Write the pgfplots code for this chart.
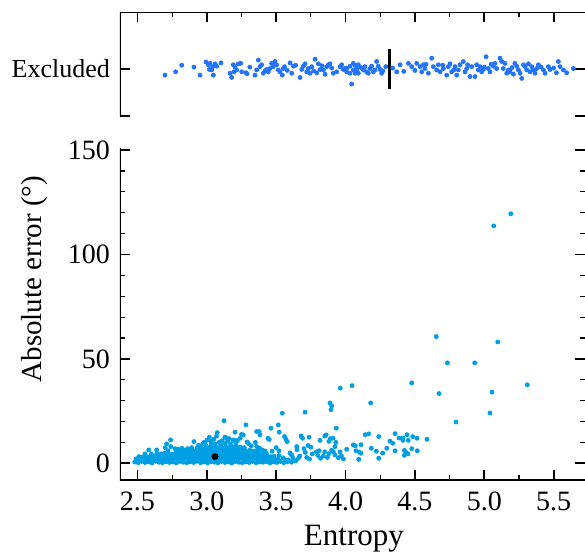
\documentclass[border=0pt]{standalone}
\usepackage{fontspec}
\setmainfont{Liberation Serif}
\usepackage{pgfplots}
\pgfplotsset{compat=1.18}
\definecolor{errblue}{RGB}{0,158,226}
\definecolor{exblue}{RGB}{36,116,250}

\pgfplotsset{
  panel/.style={
    scale only axis, width=232.5pt,
    xmin=2.374, xmax=5.726,
    axis line style={draw=none},
    tick align=inside,
    major tick length=5pt, minor tick length=2.5pt,
    every tick/.style={black, line width=0.9pt},
    every minor tick/.style={line width=0.6pt},
    xtick={2.5,3.0,3.5,4.0,4.5,5.0,5.5},
    minor x tick num=1,
    tick label style={font=\fontsize{14}{16}\selectfont},
    yticklabel style={anchor=east, xshift=-1.5pt},
  },
}

\begin{document}
\begin{tikzpicture}

% main panel
\begin{axis}[panel,
  at={(0,0)}, anchor=south west, height=166pt,
  ymin=-8, ymax=151,
  ytick={0,50,100,150}, yticklabels={0,50,100,150}, minor y tick num=4,
  xticklabels={2.5,3.0,3.5,4.0,4.5,5.0,5.5},
  xtick pos=bottom, ytick pos=both,
  xticklabel style={anchor=base, yshift=-15pt},
  xlabel={Entropy}, ylabel={Absolute error (°)},
  every axis x label/.style={at={(axis description cs:0.503,-0.196)}, anchor=base, font=\fontsize{15.5}{18}\selectfont},
  every axis y label/.style={at={(axis description cs:-0.168,0.605)}, rotate=90, anchor=base, font=\fontsize{14.5}{17}\selectfont},
]
\coordinate (bl) at (rel axis cs:0,0);
\draw[line width=1.2pt] (rel axis cs:0,1) -- (rel axis cs:0,0) -- (rel axis cs:1,0);

\addplot[only marks, mark=*, mark size=1pt, color=errblue] coordinates {
% dense band
(2.48,0.6) (2.505,0.3) (2.53,0.9) (2.555,0.4) (2.58,0.7) (2.605,0.2) (2.63,1.0) (2.655,0.5) (2.68,0.3) (2.705,0.8)
(2.73,0.4) (2.755,0.6) (2.78,0.2) (2.805,0.9) (2.83,0.5) (2.855,0.3) (2.88,0.7) (2.905,0.4) (2.93,1.0) (2.955,0.3)
(2.98,0.6) (3.005,0.2) (3.03,0.8) (3.055,0.5) (3.08,0.3) (3.105,0.9) (3.13,0.4) (3.155,0.6) (3.18,0.2) (3.205,0.8)
(3.23,0.5) (3.255,0.3) (3.28,0.7) (3.305,0.4) (3.33,0.9) (3.355,0.3) (3.38,0.6) (3.405,0.5) (3.43,0.8) (3.455,0.2)
(3.48,0.6) (3.505,0.4) (3.53,0.9) (3.555,0.3) (3.58,0.7) (3.61,0.5) (3.64,1.2)
(2.49,2.1) (2.515,1.8) (2.54,2.3) (2.565,1.9) (2.59,2.2) (2.615,1.7) (2.64,2.4) (2.665,2.0) (2.69,1.8) (2.715,2.2)
(2.74,1.9) (2.765,2.3) (2.79,1.7) (2.815,2.1) (2.84,2.4) (2.865,1.9) (2.89,2.2) (2.915,1.8) (2.94,2.3) (2.965,2.0)
(2.99,1.7) (3.015,2.2) (3.04,2.4) (3.065,1.9) (3.09,2.1) (3.115,1.8) (3.14,2.3) (3.165,2.0) (3.19,1.7) (3.215,2.2)
(3.24,2.4) (3.265,1.9) (3.29,2.1) (3.315,1.8) (3.34,2.3) (3.365,2.0) (3.39,1.7) (3.415,2.2) (3.44,1.9) (3.465,2.3)
(3.49,1.8) (3.515,2.1) (3.55,2.6) (3.57,1.6)
(2.51,3.2) (2.535,3.0) (2.56,3.5) (2.585,3.1) (2.61,3.4) (2.635,3.6) (2.66,3.2) (2.685,3.0) (2.71,3.5) (2.735,3.3)
(2.76,3.1) (2.785,3.6) (2.81,3.2) (2.835,3.4) (2.86,3.0) (2.885,3.5) (2.91,3.3) (2.935,3.1) (2.96,3.6) (2.985,3.2)
(3.01,3.4) (3.035,3.0) (3.085,3.5) (3.11,3.3) (3.135,3.1) (3.16,3.6) (3.185,3.2) (3.21,3.4) (3.235,3.0) (3.26,3.5)
(3.285,3.3) (3.31,3.1) (3.335,3.6) (3.36,3.2) (3.385,3.4) (3.41,3.0) (3.435,3.5) (3.46,3.2) (3.485,3.4) (3.52,3.7)
(2.60,4.4) (2.64,4.8) (2.67,4.5) (2.70,4.9) (2.725,4.6) (2.75,4.4) (2.775,4.8) (2.80,4.7) (2.825,4.5) (2.85,4.9)
(2.875,4.6) (2.90,4.8) (2.925,4.4) (2.95,4.7) (2.975,4.9) (3.00,4.5) (3.025,4.8) (3.05,4.6) (3.075,4.4) (3.10,4.9)
(3.125,4.7) (3.15,4.5) (3.175,4.8) (3.20,4.6) (3.225,4.9) (3.25,4.4) (3.275,4.7) (3.30,4.8) (3.325,4.5) (3.35,4.6)
(3.375,4.9) (3.40,4.4) (3.43,4.7)
(2.72,6.0) (2.78,6.2) (2.81,5.9) (2.84,6.3) (2.87,6.0) (2.90,6.2) (2.925,5.9) (2.95,6.4) (2.975,6.1) (3.00,5.9)
(3.025,6.3) (3.05,6.0) (3.075,6.2) (3.10,5.9) (3.125,6.4) (3.15,6.1) (3.175,6.0) (3.20,6.3) (3.225,5.9) (3.25,6.2)
(3.28,6.0) (3.31,6.3) (3.34,5.9) (3.37,6.1)
(2.93,7.4) (2.96,7.7) (2.99,7.3) (3.015,7.6) (3.04,7.4) (3.065,7.8) (3.09,7.5) (3.115,7.3) (3.14,7.7) (3.165,7.4)
(3.19,7.6) (3.215,7.3) (3.24,7.8) (3.27,7.5)
(2.99,9.0) (3.03,8.8) (3.06,9.3) (3.10,8.9) (3.13,9.4) (3.17,9.0) (3.21,8.8)
% scattered points
(2.554,4.5) (2.581,6.4) (2.638,6.4) (2.71,9.3) (2.739,11.2) (2.70,7.5) (2.74,8.0) (2.77,7.0) (2.79,6.8) (2.82,7.2)
(2.86,7.0) (2.89,7.5) (2.907,10.4) (2.94,8.6) (2.97,9.2) (3.00,11.0) (3.018,12.5) (3.03,10.6) (3.07,13.0) (3.075,14.7)
(3.124,20.4) (3.13,12.5) (3.14,12.2) (3.15,10.6) (3.19,11.2) (3.203,14.9) (3.22,10.8) (3.24,12.0) (3.25,13.8) (3.263,13.6)
(3.282,18.4) (3.29,10.2) (3.30,9.5) (3.32,8.4) (3.35,10.0) (3.359,15.2) (3.378,15.2) (3.383,13.6) (3.36,8.0) (3.38,7.2)
(3.40,6.4) (3.44,12.0) (3.45,11.4) (3.462,16.8) (3.515,18.4) (3.522,14.9) (3.544,24.0) (3.56,12.8) (3.57,11.5) (3.58,10.4)
(3.50,7.5) (3.52,6.0) (3.47,5.8) (3.42,5.9) (3.60,5.0) (3.61,4.0) (3.587,1.6) (3.62,2.5) (3.65,6.5) (3.648,8.0)
(3.66,2.4) (3.67,3.5) (3.679,13.1) (3.69,12.0) (3.70,7.0) (3.708,24.5) (3.71,5.2) (3.72,2.8) (3.73,8.5) (3.737,12.5)
(3.74,2.0) (3.751,7.7) (3.76,4.5) (3.79,5.5) (3.80,3.8) (3.81,6.0) (3.816,11.0) (3.82,2.4) (3.84,3.5) (3.85,13.0)
(3.86,13.6) (3.85,5.5) (3.87,2.8) (3.88,4.6) (3.888,28.9) (3.895,25.7) (3.90,27.5) (3.88,10.5) (3.89,11.8) (3.90,6.2)
(3.91,12.0) (3.912,5.4) (3.924,8.0) (3.924,4.0) (3.933,16.8) (3.93,10.0) (3.948,2.7) (3.96,5.4) (3.962,36.0) (3.97,3.6)
(3.984,2.1) (4.008,6.7) (4.047,37.2) (4.056,8.8) (4.070,8.4) (4.075,6.0) (4.099,5.4) (4.111,4.8) (4.111,8.9) (4.095,1.9)
(4.142,13.7) (4.167,14.1) (4.181,28.9) (4.186,7.2) (4.222,5.8) (4.239,12.8) (4.239,2.4) (4.268,4.9) (4.297,7.2) (4.320,10.6)
(4.340,9.6) (4.357,14.2) (4.357,6.0) (4.385,12.1) (4.414,12.1) (4.414,11.0) (4.424,6.2) (4.424,3.8) (4.438,5.1) (4.443,13.7)
(4.452,11.0) (4.450,4.5) (4.477,7.0) (4.477,38.5) (4.484,12.8) (4.515,12.0) (4.517,6.0) (4.587,11.5) (4.654,60.7) (4.674,33.4)
(4.734,48.1) (4.796,19.8) (4.931,48.1) (5.041,24.1) (5.056,34.1) (5.068,113.7) (5.097,58.1) (5.191,119.5) (5.310,37.6)
(3.05,11.5) (3.09,10.2) (3.16,11.8) (3.11,10.8) (2.98,10.0) (2.95,8.0) (3.21,10.9) (3.19,10.6)
};
\addplot[only marks, mark=*, mark size=1.5pt, color=black] coordinates {(3.059,3.2)};
\end{axis}

% excluded strip
\begin{axis}[panel,
  at={(0,182pt)}, anchor=south west, height=52pt,
  ymin=-1, ymax=1.213,
  ytick={-1,0}, yticklabels={{},Excluded},
  xticklabels={},
  xtick pos=top, ytick pos=both,
  yticklabel style={font=\fontsize{13}{15}\selectfont},
]
\draw[line width=1.2pt] (rel axis cs:0,0) -- (rel axis cs:0,1) -- (rel axis cs:1,1);
\addplot[only marks, mark=*, mark size=1pt, color=exblue] coordinates {
(2.698,-0.13) (2.775,-0.06) (2.819,0.08) (2.907,0.04) (2.951,-0.13) (2.994,0.15) (3.011,0.09) (3.023,0.12) (3.042,0.05) (3.059,0.11)
(3.071,0.06) (3.035,-0.02) (3.018,-0.01) (3.047,-0.13) (3.102,0.13) (3.167,-0.09) (3.179,-0.18) (3.191,0.09) (3.203,0.04) (3.215,-0.02)
(3.227,0.11) (3.244,0.12) (3.251,-0.06) (3.282,-0.08) (3.196,-0.06) (3.347,-0.13) (3.359,-0.02) (3.371,0.19) (3.383,0.05) (3.395,0.09)
(3.407,-0.09) (3.419,-0.04) (3.431,-0.01) (3.443,-0.06) (3.455,0.01) (3.467,0.12) (3.479,0.05) (3.491,0.16) (3.503,0.09) (3.515,-0.02)
(3.527,-0.06) (3.544,-0.13) (3.551,0.01) (3.600,0.13) (3.612,-0.09) (3.624,0.06) (3.672,-0.18) (3.684,-0.01) (3.696,0.06) (3.708,0.11)
(3.720,-0.06) (3.732,0.01) (3.744,-0.09) (3.756,0.05) (3.780,0.21) (3.792,-0.08) (3.804,0.11) (3.816,-0.01) (3.840,-0.02) (3.852,-0.11)
(3.864,0.05) (3.876,0.09) (3.888,0.11) (3.912,-0.09) (3.936,-0.06) (3.960,0.05) (3.984,-0.01) (4.008,0.02) (4.032,-0.09) (4.044,-0.32)
(4.056,-0.02) (4.068,0.08) (4.080,-0.01) (4.092,-0.09)
(3.972,0.09) (3.996,0.01) (4.008,-0.06) (4.032,0.06) (4.056,0.12) (4.068,-0.09) (4.080,0.01) (4.092,0.09) (4.128,-0.02) (4.140,0.05)
(4.152,-0.06) (4.164,-0.09) (4.176,0.01) (4.188,0.06) (4.200,-0.06) (4.212,-0.02) (4.224,0.16) (4.236,0.06) (4.248,-0.01) (4.260,-0.09)
(4.268,-0.04) (4.369,-0.06) (4.393,0.09) (4.453,0.12) (4.477,0.05) (4.513,0.12) (4.537,0.05) (4.549,-0.06) (4.561,0.09) (4.573,0.01)
(4.597,-0.09) (4.621,0.23) (4.633,0.05) (4.657,-0.02) (4.669,0.09) (4.681,-0.06) (4.705,0.01) (4.729,-0.13) (4.741,0.05) (4.753,0.11)
(4.765,-0.06) (4.789,0.05) (4.801,-0.13) (4.813,-0.02) (4.825,0.09) (4.849,0.16) (4.861,-0.06) (4.873,0.01) (4.897,-0.16) (4.909,0.05)
(4.933,-0.16) (4.945,0.09) (4.957,-0.02) (4.969,0.05) (4.981,-0.06) (4.993,-0.01) (5.013,0.26) (5.029,0.01) (5.041,-0.06) (5.065,0.06)
(5.077,0.12) (5.089,0.01) (5.113,0.23) (5.125,0.16) (5.137,0.01) (5.149,0.12) (5.162,-0.09) (5.174,-0.02) (5.186,-0.06) (5.210,-0.11)
(5.234,0.06) (5.246,-0.02) (5.258,-0.09) (5.270,-0.20) (5.282,0.09) (5.294,0.05) (5.306,-0.02) (5.318,0.11) (5.342,0.05) (5.354,-0.02)
(5.366,-0.09) (5.378,0.01) (5.390,0.09) (5.426,-0.02) (5.438,-0.09) (5.462,0.05) (5.474,-0.01) (5.534,0.16) (5.546,0.05) (5.570,-0.02)
(5.594,-0.08) (5.642,0.01)
(3.31,0.04) (3.29,-0.10) (3.56,0.05) (3.58,-0.03) (3.64,0.08) (3.77,-0.04) (3.83,0.07) (3.90,0.02) (4.11,0.03) (4.29,0.05)
(4.34,0.02) (4.42,-0.05) (4.50,-0.03) (4.58,0.10) (4.70,0.08) (4.78,-0.02) (4.88,0.09) (5.00,0.04) (5.05,0.10) (5.20,0.03)
(5.22,0.12) (5.33,-0.06) (5.41,0.04) (5.50,0.02) (5.52,-0.08)
};
\addplot[black, line width=1.4pt] coordinates {(4.316,-0.42) (4.316,0.42)};
\end{axis}

\pgfresetboundingbox
\path[use as bounding box] ([shift={(-60pt,-37pt)}]bl) rectangle ([shift={(232.5pt,240pt)}]bl);
\end{tikzpicture}
\end{document}
